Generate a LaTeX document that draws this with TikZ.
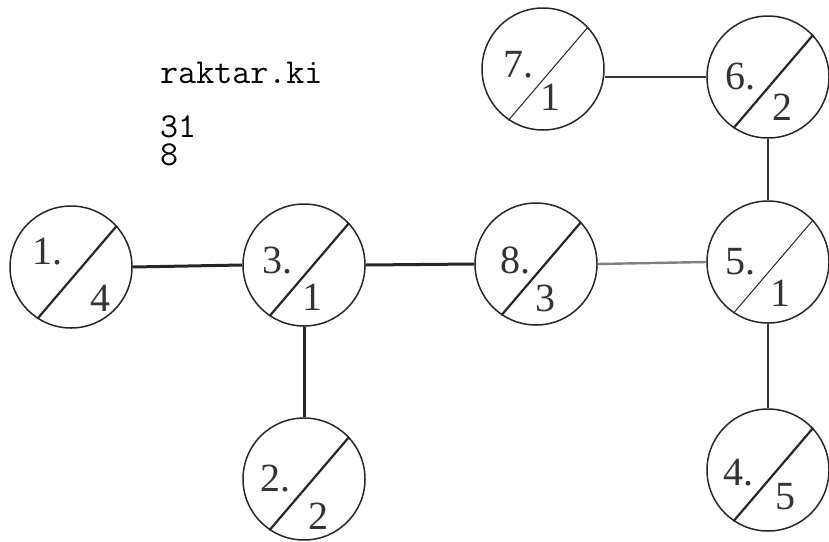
\documentclass[tikz,border=0pt]{standalone}
\usepackage{fontspec}
\usetikzlibrary{calc}
\setmainfont{Liberation Serif}
\begin{document}
\begin{tikzpicture}[x=1pt,y=-1pt,
  vtx/.style={circle,draw=black!85,line width=1.5pt,minimum size=122pt,inner sep=0pt},
  lab/.style={inner sep=0pt,font=\fontsize{40}{40}\selectfont,text=black!80},
  slashthick/.style={line width=2.2pt,black!85},
  slashthin/.style={line width=1pt,black!85},
  edgethick/.style={line width=3pt,black!85},
  edgethin/.style={line width=1.4pt,black!80},
  edgegray/.style={line width=2.4pt,black!50},
  mono/.style={inner sep=0pt,anchor=base west,align=left,font=\ttfamily\fontsize{35}{28}\selectfont}]
\useasboundingbox (0,0) rectangle (829,541);
% text
\node[mono] (t1) at (160,83) {raktar.ki};
\node[mono] (t2) at (160,165) {31\\8};
% vertices
\node[vtx] (n1) at (71,267) {};
\node[vtx] (n3) at (304,265) {};
\node[vtx] (n8) at (536,264) {};
\node[vtx] (n5) at (768,262) {};
\node[vtx] (n7) at (543,69) {};
\node[vtx] (n6) at (768,77) {};
\node[vtx] (n2) at (304,479) {};
\node[vtx] (n4) at (768,470) {};
% slashes
\draw[slashthick] (n1.237) -- (n1.42);
\draw[slashthick] (n3.236) -- (n3.43);
\draw[slashthick] (n8.236) -- (n8.43);
\draw[slashthin] (n5.236) -- (n5.43);
\draw[slashthin] (n7.236) -- (n7.43);
\draw[slashthick] (n6.236) -- (n6.43);
\draw[slashthick] (n2.236) -- (n2.43);
\draw[slashthick] (n4.236) -- (n4.43);
% labels
\node[lab] (l1a) at ($(n1)+(-24,-15)$) {1.};
\node[lab] (l1b) at ($(n1)+(29,31)$) {4};
\node[lab] (l3a) at ($(n3)+(-27,-4)$) {3.};
\node[lab] (l3b) at ($(n3)+(8,32)$) {1};
\node[lab] (l8a) at ($(n8)+(-21,-4)$) {8.};
\node[lab] (l8b) at ($(n8)+(9,34)$) {3};
\node[lab] (l5a) at ($(n5)+(-28,0)$) {5.};
\node[lab] (l5b) at ($(n5)+(12,31)$) {1};
\node[lab] (l7a) at ($(n7)+(-25,-4)$) {7.};
\node[lab] (l7b) at ($(n7)+(7,28)$) {1};
\node[lab] (l6a) at ($(n6)+(-28,0)$) {6.};
\node[lab] (l6b) at ($(n6)+(14,30)$) {2};
\node[lab] (l2a) at ($(n2)+(-29,0)$) {2.};
\node[lab] (l2b) at ($(n2)+(14,37)$) {2};
\node[lab] (l4a) at ($(n4)+(-30,3)$) {4.};
\node[lab] (l4b) at ($(n4)+(17,27)$) {5};
% edges
\draw[edgethick] (n1.east) -- (n3.west);
\draw[edgethick] (n3.east) -- (n8.west);
\draw[edgegray] (n8.east) -- (n5.west);
\draw[edgethin] (n6.west) -- (n6.west -| n7.east);
\draw[edgethin] (n6.south) -- (n5.north);
\draw[edgethick] (n3.south) -- (n2.north);
\draw[edgethin] (n5.south) -- (n4.north);
\end{tikzpicture}
\end{document}
